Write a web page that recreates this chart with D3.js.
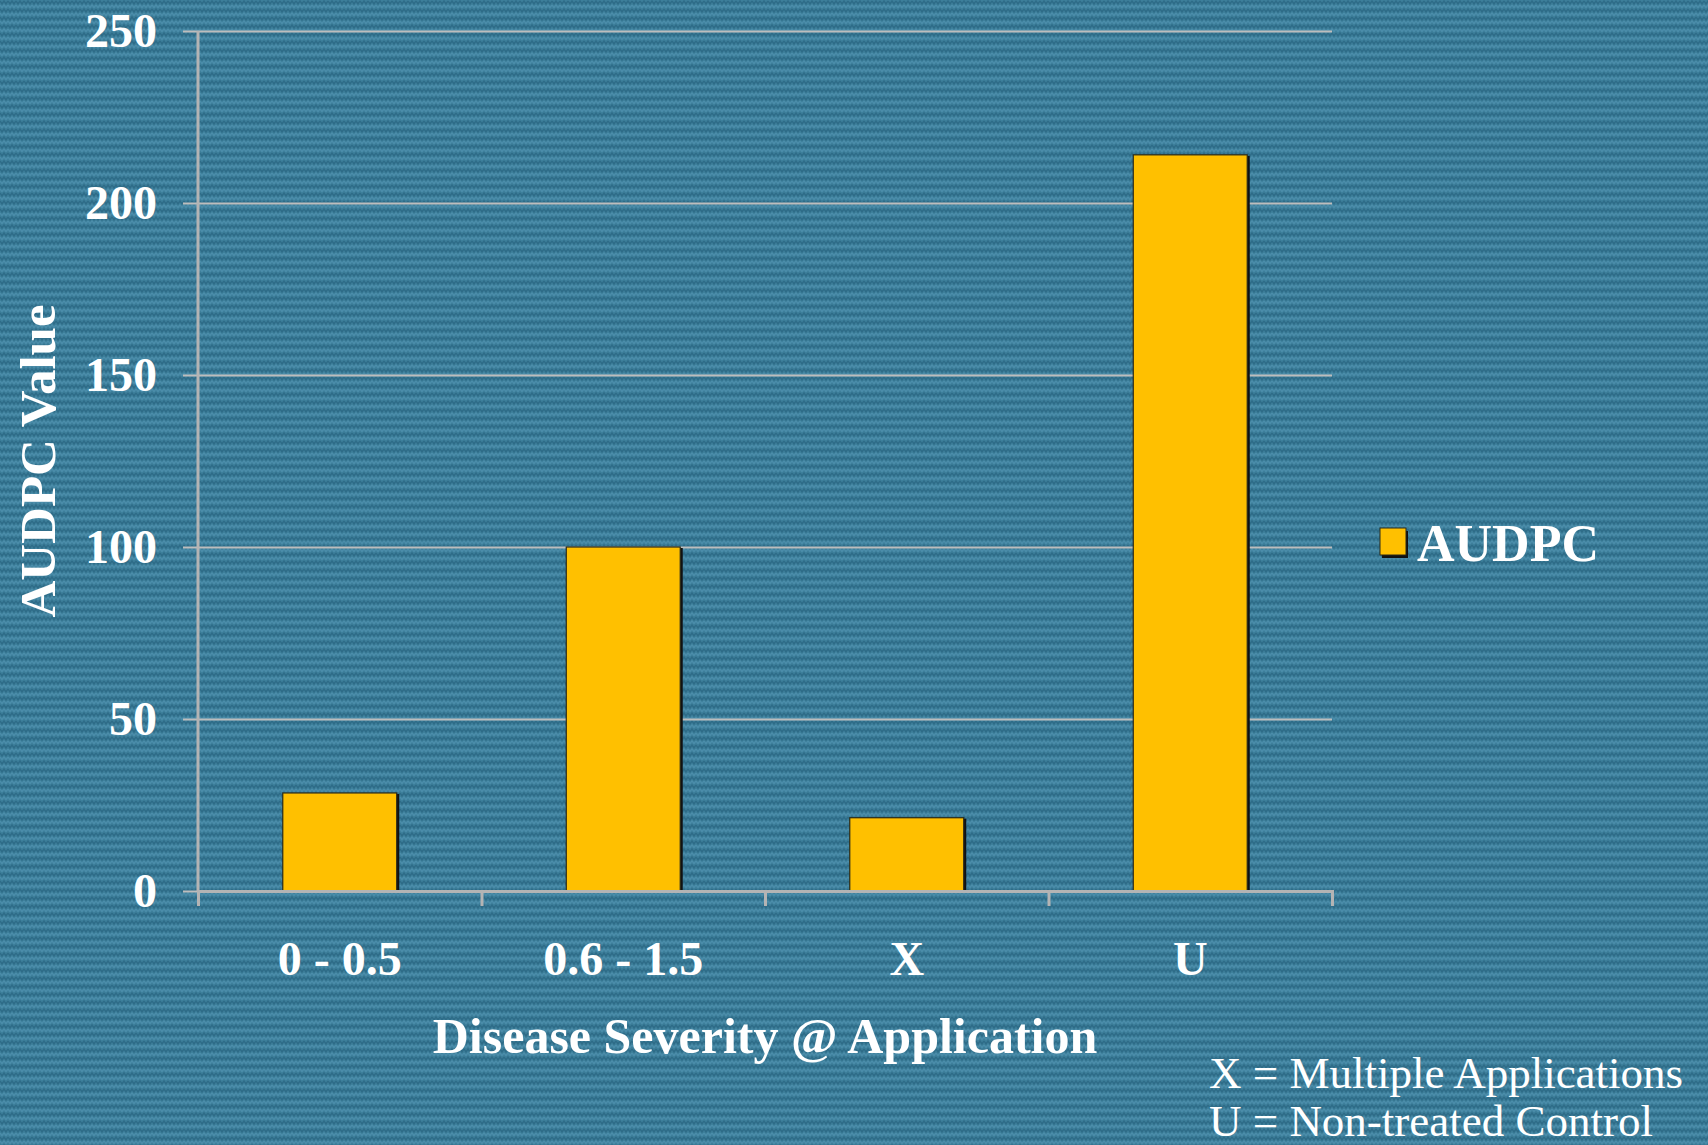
<!DOCTYPE html>
<html>
<head>
<meta charset="utf-8">
<script src="https://cdn.jsdelivr.net/npm/d3@7"></script>
<style>
  body { margin: 0; background: #3c7e9a; }
  svg { display: block; }
  text { font-family: "Liberation Serif", "Times New Roman", serif; fill: #fff; }
</style>
</head>
<body>
<div id="container"></div>
<script>
let categories = ['0 - 0.5', '0.6 - 1.5', 'X', 'U']
let values = [28.5, 100, 21.3, 214]
let yTicks = [0, 50, 100, 150, 200, 250]
let seriesName = 'AUDPC'
let notes = ['X = Multiple Applications', 'U = Non-treated Control']

let svgWidth = 1708;
let svgHeight = 1145;
let plotLeft = 198, plotRight = 1332, plotTop = 31, plotBottom = 891;

let svg = d3.select('#container')
            .append('svg')
            .attr('width', svgWidth)
            .attr('height', svgHeight);

// knit-like background texture
let defs = svg.append('defs')
let pat = defs.append('pattern')
              .attr('id', 'knit')
              .attr('width', 8)
              .attr('height', 8)
              .attr('patternUnits', 'userSpaceOnUse')
pat.append('rect').attr('width', 8).attr('height', 8).attr('fill', '#3d7f9b')
pat.append('path').attr('d', 'M0,1 L2,4 L4,1 L6,4 L8,1')
   .attr('fill', 'none').attr('stroke', '#2e6c88').attr('stroke-width', 1.5)
pat.append('path').attr('d', 'M0,5 L2,7.6 L4,5 L6,7.6 L8,5')
   .attr('fill', 'none').attr('stroke', '#4c8eab').attr('stroke-width', 1.2)

svg.append('rect').attr('width', svgWidth).attr('height', svgHeight).attr('fill', 'url(#knit)')

let y = d3.scaleLinear().domain([0, 250]).range([plotBottom, plotTop])
let x = d3.scaleBand().domain(categories).range([plotLeft, plotRight])
          .paddingInner(0.598).paddingOuter(0.299)
let xEdges = d3.scaleLinear().domain([0, categories.length]).range([plotLeft, plotRight])

// gridlines + y tick labels
let yAxis = svg.append('g')
  .attr('transform', 'translate(' + plotRight + ',0)')
  .call(d3.axisLeft(y).tickValues(yTicks).tickSize(plotRight - plotLeft + 15).tickPadding(26))
yAxis.select('.domain').remove()
yAxis.selectAll('.tick line').attr('stroke', '#bdbdbd').attr('stroke-width', 2)
yAxis.selectAll('.tick text')
     .style('font-family', '"Liberation Serif", serif')
     .style('font-weight', 'bold')
     .style('font-size', '48px')
     .attr('fill', '#fff')

// bars with a dark shadow on the right
let bars = svg.append('g')
bars.selectAll('rect.shadow')
    .data(values)
    .enter()
    .append('rect')
    .attr('class', 'shadow')
    .attr('fill', '#111')
    .attr('x', (d, i) => x(categories[i]) + 2.5)
    .attr('y', d => y(d) + 1)
    .attr('width', x.bandwidth())
    .attr('height', d => plotBottom - y(d) - 1)
bars.selectAll('rect.bar')
    .data(values)
    .enter()
    .append('rect')
    .attr('class', 'bar')
    .attr('fill', '#ffc000')
    .attr('stroke', '#2a2a1a')
    .attr('stroke-width', 1.2)
    .attr('x', (d, i) => x(categories[i]))
    .attr('y', d => y(d))
    .attr('width', x.bandwidth())
    .attr('height', d => plotBottom - y(d))

// axis lines
svg.append('line').attr('x1', plotLeft).attr('x2', plotLeft)
   .attr('y1', plotTop).attr('y2', plotBottom)
   .attr('stroke', '#b4b4b4').attr('stroke-width', 3)

let xAxis = svg.append('g')
  .attr('transform', 'translate(0,' + plotBottom + ')')
  .call(d3.axisBottom(xEdges).tickValues(d3.range(categories.length + 1)).tickSize(15).tickFormat(''))
xAxis.select('.domain').attr('stroke', '#b4b4b4').attr('stroke-width', 3)
xAxis.selectAll('.tick line').attr('stroke', '#b4b4b4').attr('stroke-width', 3)

let xLabels = svg.append('g')
  .attr('transform', 'translate(0,' + plotBottom + ')')
  .call(d3.axisBottom(x).tickSize(0).tickPadding(50))
xLabels.select('.domain').remove()
xLabels.selectAll('.tick text')
       .style('font-family', '"Liberation Serif", serif')
       .style('font-weight', 'bold')
       .style('font-size', '48px')
       .attr('fill', '#fff')

// axis titles
svg.append('text')
   .attr('x', (plotLeft + plotRight) / 2)
   .attr('y', 1053)
   .attr('text-anchor', 'middle')
   .style('font-weight', 'bold')
   .style('font-size', '50px')
   .text('Disease Severity @ Application')

svg.append('text')
   .attr('transform', 'translate(55,' + (plotTop + plotBottom) / 2 + ') rotate(-90)')
   .attr('text-anchor', 'middle')
   .style('font-weight', 'bold')
   .style('font-size', '51px')
   .text('AUDPC Value')

// legend
let legend = svg.append('g').attr('transform', 'translate(1380,528)')
legend.append('rect').attr('x', 2).attr('y', 3).attr('width', 26).attr('height', 27).attr('fill', '#111')
legend.append('rect').attr('width', 26).attr('height', 27).attr('fill', '#ffc000')
      .attr('stroke', '#2a2a1a').attr('stroke-width', 1)
legend.append('text').attr('x', 37).attr('y', 33)
      .style('font-size', '52px')
      .style('font-weight', 'bold')
      .text(seriesName)

// notes
svg.selectAll('text.note')
   .data(notes)
   .enter()
   .append('text')
   .attr('class', 'note')
   .attr('x', 1209)
   .attr('y', (d, i) => 1088 + i * 48)
   .style('font-size', '45px')
   .text(d => d)
</script>
</body>
</html>
